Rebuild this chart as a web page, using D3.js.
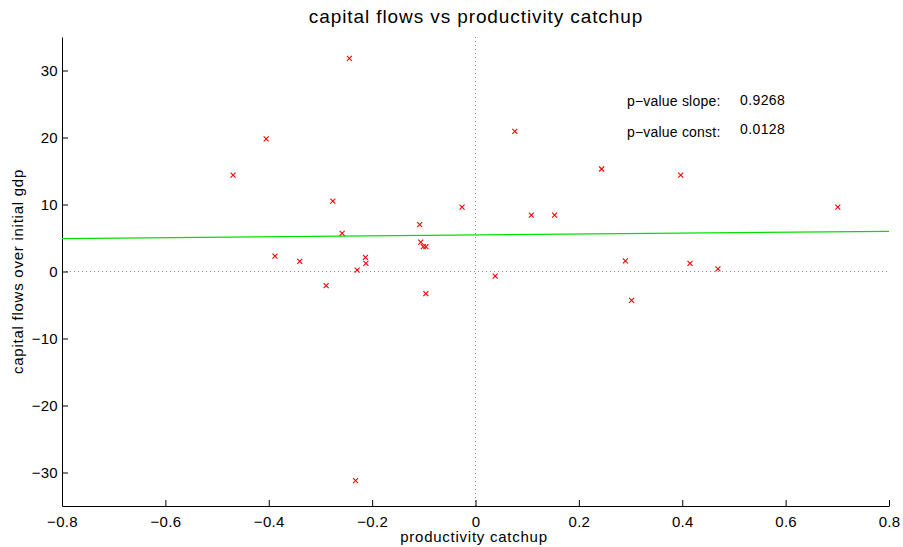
<!DOCTYPE html>
<html>
<head>
<meta charset="utf-8">
<script src="https://cdn.jsdelivr.net/npm/d3@7"></script>
<style>
  body { margin: 0; background: #fff; }
  text { font-family: "Liberation Sans", Arial, sans-serif; fill: #000; }
</style>
</head>
<body>
<div class="chart"></div>
<script>
// productivity catchup (x) and capital flows over initial gdp (y)
var catchup = [-0.469, -0.405, -0.388, -0.340, -0.289, -0.276, -0.258, -0.244, -0.232, -0.229,
               -0.213, -0.212, -0.108, -0.106, -0.101, -0.096, -0.096, -0.026, 0.038, 0.076,
               0.108, 0.153, 0.244, 0.290, 0.302, 0.397, 0.415, 0.469, 0.701];
var flows   = [14.4, 19.8, 2.3, 1.5, -2.1, 10.5, 5.7, 31.8, -31.2, 0.2,
               2.1, 1.2, 7.0, 4.4, 3.7, 3.7, -3.3, 9.6, -0.7, 20.9,
               8.4, 8.4, 15.3, 1.6, -4.3, 14.4, 1.2, 0.4, 9.6];
// fitted regression line end points
var fitX = [-0.8, 0.8];
var fitY = [4.9, 6.0];
var xTicks = [-0.8, -0.6, -0.4, -0.2, 0, 0.2, 0.4, 0.6, 0.8];
var yTicks = [-30, -20, -10, 0, 10, 20, 30];
var pLabels = ["p\u2212value slope:", "p\u2212value const:"];
var pValues = ["0.9268", "0.0128"];

var margin = {top: 37, left: 62, bottom: 41, right: 14};
var width = 903 - margin.left - margin.right;
var height = 547 - margin.top - margin.bottom;

var svg = d3.select(".chart").append("svg")
    .attr("width", 903).attr("height", 547);
var g = svg.append("g").attr("transform", "translate(" + margin.left + "," + margin.top + ")");

var x = d3.scaleLinear().domain([-0.8, 0.8]).range([0, width]);
var y = d3.scaleLinear().domain([-35, 35]).range([height, 0]);

var fmt = function(d){ return d3.format("")(d).replace("-", "\u2212"); };

// zero lines
g.append("line").attr("x1", x(0)).attr("x2", x(0)).attr("y1", 0).attr("y2", height)
  .attr("stroke", "#888").attr("stroke-dasharray", "1,3");
g.append("line").attr("x1", 0).attr("x2", width).attr("y1", y(0)).attr("y2", y(0))
  .attr("stroke", "#888").attr("stroke-dasharray", "1,3");

// axes, ticks inward
var xAxis = g.append("g").attr("transform", "translate(0," + height + ")")
  .call(d3.axisBottom(x).tickValues(xTicks).tickSizeInner(-6).tickSizeOuter(0).tickPadding(10).tickFormat(fmt));
var yAxis = g.append("g")
  .call(d3.axisLeft(y).tickValues(yTicks).tickSizeInner(-6).tickSizeOuter(0).tickPadding(4).tickFormat(fmt));
[xAxis, yAxis].forEach(function(a){
  a.select(".domain").attr("stroke", "#000");
  a.selectAll(".tick line").attr("stroke", "#000");
  a.selectAll("text").attr("font-size", "15px").attr("letter-spacing", "0.3px")
    .attr("font-family", "Liberation Sans, Arial, sans-serif");
});
yAxis.selectAll(".tick text").attr("x", -4);

// fit line
g.append("path").datum(d3.zip(fitX, fitY))
  .attr("fill", "none").attr("stroke", "#00e000").attr("stroke-width", 1.2)
  .attr("d", d3.line().x(function(d){ return x(d[0]); }).y(function(d){ return y(d[1]); }));

// x markers
var s = 2.5;
g.selectAll(".pt").data(d3.zip(catchup, flows)).enter().append("path")
  .attr("class", "pt")
  .attr("transform", function(d){ return "translate(" + x(d[0]) + "," + y(d[1]) + ")"; })
  .attr("d", "M" + (-s) + "," + (-s) + "L" + s + "," + s + "M" + (-s) + "," + s + "L" + s + "," + (-s))
  .attr("stroke", "#ff0000").attr("stroke-width", 1.1).attr("fill", "none");

// p-value text
pLabels.forEach(function(t, i){
  g.append("text").attr("x", 627 - margin.left).attr("y", 106 - margin.top + i*31)
    .attr("font-size", "14px").attr("letter-spacing", "0.2px").text(t);
  g.append("text").attr("x", 740 - margin.left).attr("y", 105 - margin.top + i*29)
    .attr("font-size", "14px").attr("letter-spacing", "0.4px").text(pValues[i]);
});

// title and labels
svg.append("text").attr("x", 476).attr("y", 23).attr("text-anchor", "middle")
  .attr("font-size", "19px").attr("letter-spacing", "0.9px").text("capital flows vs productivity catchup");
svg.append("text").attr("x", 474).attr("y", 542).attr("text-anchor", "middle")
  .attr("font-size", "15px").attr("letter-spacing", "0.75px").text("productivity catchup");
svg.append("text").attr("transform", "translate(23," + (margin.top + height/2) + ") rotate(-90)")
  .attr("text-anchor", "middle").attr("font-size", "15px").attr("letter-spacing", "0.75px")
  .text("capital flows over initial gdp");
</script>
</body>
</html>
